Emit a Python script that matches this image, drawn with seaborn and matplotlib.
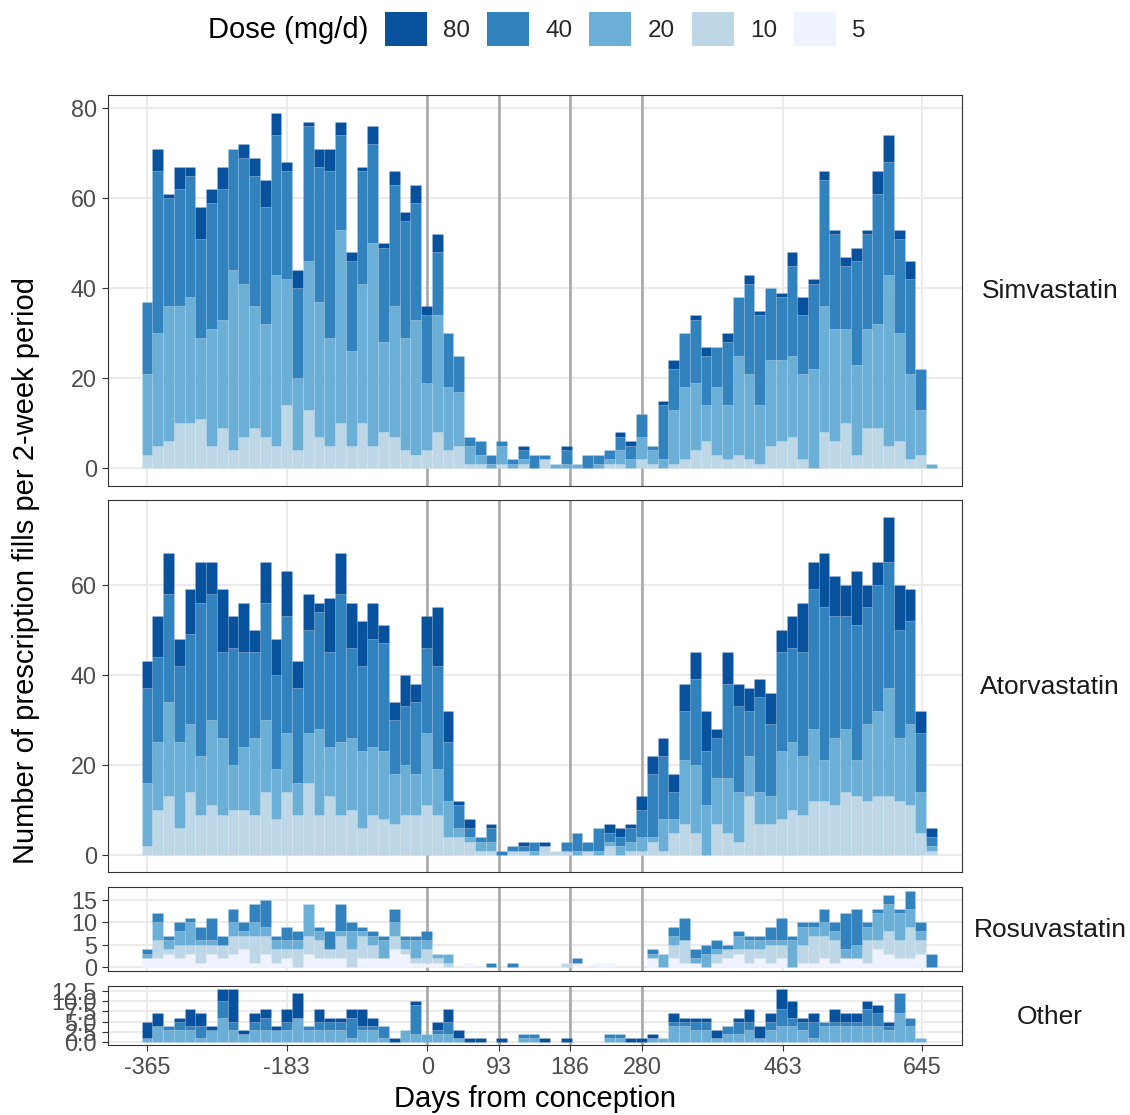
import numpy as np
import pandas as pd
import matplotlib
matplotlib.use("Agg")
import matplotlib.pyplot as plt
from matplotlib.patches import Patch
import seaborn as sns

# ---- data: prescription fills per 2-week period, by statin and dose ----
days = list(range(-365, -365 + 14 * 74, 14))   # period centres (days from conception)

simva_10 = [3, 5, 6, 10, 10, 11, 5, 9, 4, 7, 9, 7, 5, 14, 4, 13, 7, 5, 10, 5,
            10, 5, 8, 7, 4, 3, 4, 8, 4, 5, 1, 1, 0, 1, 0, 1, 0, 2, 0, 0,
            0, 0, 0, 1, 1, 0, 2, 1, 0, 1, 2, 4, 6, 3, 2, 3, 2, 1, 5, 6,
            7, 2, 0, 8, 6, 10, 3, 9, 9, 5, 6, 2, 3, 0]
simva_20 = [18, 25, 30, 26, 28, 18, 26, 24, 40, 34, 27, 25, 38, 28, 16, 33, 30, 24, 43, 21,
            31, 45, 20, 29, 25, 30, 15, 26, 14, 12, 4, 2, 1, 4, 1, 1, 0, 0, 1, 1,
            1, 0, 1, 1, 3, 2, 5, 3, 2, 12, 16, 15, 8, 15, 12, 22, 19, 13, 19, 18,
            18, 19, 22, 28, 25, 21, 20, 22, 23, 38, 24, 19, 10, 1]
simva_40 = [16, 36, 24, 26, 27, 22, 28, 29, 27, 28, 29, 26, 31, 24, 20, 30, 30, 37, 21, 20,
            25, 22, 21, 27, 26, 26, 15, 14, 12, 8, 2, 3, 2, 1, 1, 2, 3, 1, 0, 3,
            0, 3, 2, 2, 3, 3, 5, 1, 12, 9, 12, 14, 11, 9, 14, 13, 20, 20, 16, 14,
            20, 13, 19, 28, 21, 14, 23, 21, 29, 25, 21, 21, 9, 0]
simva_80 = [0, 5, 1, 5, 2, 7, 3, 5, 0, 3, 4, 6, 5, 2, 4, 1, 4, 5, 3, 2,
            1, 4, 1, 3, 2, 4, 2, 4, 0, 0, 0, 0, 0, 0, 0, 1, 0, 0, 0, 1,
            0, 0, 0, 0, 1, 1, 0, 0, 1, 2, 0, 1, 2, 0, 2, 0, 2, 1, 0, 1,
            3, 4, 1, 2, 1, 2, 3, 1, 5, 6, 2, 4, 0, 0]

atorva_10 = [2, 10, 13, 6, 14, 9, 11, 9, 10, 10, 9, 14, 8, 14, 9, 16, 9, 13, 9, 10,
             6, 9, 8, 7, 9, 9, 11, 9, 4, 4, 3, 1, 1, 0, 1, 1, 0, 2, 1, 1,
             0, 1, 0, 2, 0, 1, 1, 3, 1, 5, 7, 5, 0, 7, 5, 3, 13, 7, 7, 8,
             10, 9, 12, 12, 11, 14, 13, 12, 13, 13, 12, 11, 5, 1]
atorva_20 = [14, 15, 21, 19, 15, 13, 19, 17, 10, 14, 17, 16, 11, 13, 7, 11, 19, 11, 16, 16,
             17, 15, 15, 11, 11, 9, 16, 10, 8, 2, 1, 2, 2, 0, 0, 0, 1, 0, 0, 0,
             1, 0, 1, 1, 2, 2, 3, 1, 7, 3, 14, 15, 11, 10, 12, 11, 9, 7, 6, 15,
             15, 13, 16, 9, 15, 14, 8, 17, 19, 24, 14, 18, 9, 1]
atorva_40 = [21, 19, 24, 17, 20, 34, 28, 19, 26, 21, 19, 26, 21, 26, 21, 23, 26, 21, 33, 20,
             19, 24, 24, 12, 13, 16, 19, 23, 13, 5, 2, 1, 3, 1, 1, 1, 2, 0, 0, 2,
             4, 2, 5, 2, 2, 3, 6, 14, 14, 6, 11, 19, 12, 9, 21, 19, 10, 21, 16, 22,
             21, 23, 31, 34, 27, 25, 30, 26, 28, 28, 24, 23, 13, 2]
atorva_80 = [6, 9, 9, 6, 10, 9, 7, 14, 7, 11, 5, 9, 8, 10, 6, 8, 2, 12, 9, 10,
             10, 8, 4, 4, 7, 4, 7, 13, 7, 1, 2, 0, 1, 0, 0, 1, 0, 1, 0, 0,
             0, 0, 0, 2, 2, 1, 3, 4, 4, 4, 6, 6, 9, 2, 7, 5, 5, 4, 7, 5,
             7, 11, 6, 12, 9, 7, 12, 5, 5, 10, 10, 7, 5, 2]

rosu_5 = [2, 2, 3, 2, 3, 1, 3, 2, 3, 4, 1, 3, 1, 2, 0, 3, 2, 2, 2, 0,
          2, 2, 2, 4, 3, 1, 1, 1, 0, 0, 1, 0, 0, 0, 0, 0, 0, 0, 0, 0,
          1, 0, 1, 1, 0, 0, 0, 2, 0, 2, 1, 1, 0, 1, 2, 3, 1, 2, 1, 2,
          0, 1, 1, 2, 1, 2, 2, 1, 4, 3, 2, 2, 3, 0]
rosu_10 = [0, 4, 1, 3, 2, 4, 2, 3, 4, 3, 6, 4, 3, 2, 4, 4, 4, 2, 5, 4,
           5, 3, 0, 3, 1, 1, 3, 1, 1, 0, 0, 0, 0, 0, 0, 0, 0, 0, 0, 1,
           0, 0, 0, 0, 0, 0, 0, 0, 0, 3, 5, 0, 0, 2, 2, 1, 3, 2, 4, 3,
           0, 4, 6, 5, 5, 0, 0, 5, 2, 5, 4, 7, 3, 0]
rosu_20 = [1, 4, 2, 3, 5, 1, 1, 0, 3, 1, 3, 2, 2, 2, 2, 7, 2, 0, 1, 4,
           1, 2, 4, 3, 2, 4, 2, 1, 2, 0, 0, 0, 0, 0, 0, 0, 0, 0, 0, 0,
           0, 0, 0, 0, 0, 0, 0, 1, 3, 2, 0, 1, 3, 1, 0, 3, 2, 2, 1, 1,
           6, 4, 2, 3, 2, 2, 3, 3, 6, 6, 6, 4, 2, 0]
rosu_40 = [1, 2, 1, 2, 1, 3, 5, 2, 3, 2, 4, 6, 1, 3, 2, 0, 1, 4, 6, 2,
           1, 1, 1, 3, 1, 1, 2, 0, 0, 0, 0, 0, 1, 0, 1, 0, 0, 0, 0, 0,
           1, 0, 0, 0, 0, 0, 0, 1, 0, 2, 5, 2, 2, 2, 1, 1, 1, 1, 3, 5,
           1, 1, 1, 3, 2, 8, 8, 1, 1, 2, 1, 4, 2, 3]

other_20 = [1, 4, 3, 3, 3, 1, 3, 6, 3, 2, 3, 3, 3, 3, 6, 3, 3, 3, 3, 1,
            3, 3, 1, 0, 3, 2, 2, 2, 2, 1, 0, 0, 0, 0, 0, 1, 1, 0, 0, 0,
            0, 0, 0, 1, 1, 0, 0, 1, 1, 4, 4, 3, 3, 1, 2, 2, 3, 1, 3, 4,
            4, 3, 1, 4, 4, 4, 4, 4, 4, 3, 7, 4, 1, 0]
other_40 = [0, 0, 1, 2, 1, 3, 0, 4, 2, 0, 2, 3, 0, 2, 0, 1, 2, 2, 2, 5,
            1, 1, 3, 0, 0, 7, 0, 1, 3, 0, 0, 0, 0, 0, 0, 1, 1, 0, 0, 0,
            0, 0, 0, 1, 1, 0, 0, 0, 0, 1, 1, 2, 2, 0, 2, 3, 2, 0, 2, 4,
            2, 2, 4, 1, 1, 1, 1, 4, 3, 1, 5, 2, 0, 0]
other_80 = [4, 3, 0, 1, 4, 3, 1, 3, 8, 1, 2, 2, 1, 3, 6, 0, 3, 1, 1, 2,
            4, 2, 0, 1, 0, 1, 0, 2, 3, 2, 1, 1, 0, 1, 0, 0, 0, 1, 0, 1,
            0, 0, 0, 0, 0, 1, 1, 1, 0, 2, 1, 1, 1, 2, 0, 1, 3, 3, 2, 5,
            4, 1, 2, 0, 3, 2, 2, 2, 2, 1, 0, 0, 0, 0]

dose_levels = ["80", "40", "20", "10", "5"]
dose_colors = {"80": "#08519c", "40": "#3182bd", "20": "#6baed6",
               "10": "#bdd7e7", "5": "#eff3ff"}

drugs = [
    ("Simvastatin", {"80": simva_80, "40": simva_40, "20": simva_20, "10": simva_10}),
    ("Atorvastatin", {"80": atorva_80, "40": atorva_40, "20": atorva_20, "10": atorva_10}),
    ("Rosuvastatin", {"40": rosu_40, "20": rosu_20, "10": rosu_10, "5": rosu_5}),
    ("Other", {"80": other_80, "40": other_40, "20": other_20}),
]

x_ticks = [-365, -183, 0, 93, 186, 280, 463, 645]
trimester_lines = [0, 93, 186, 280]
y_ticks = {
    "Simvastatin": [0, 20, 40, 60, 80],
    "Atorvastatin": [0, 20, 40, 60],
    "Rosuvastatin": [0, 5, 10, 15],
    "Other": [0, 2.5, 5, 7.5, 10, 12.5],
}


def long_frame(layers):
    rows = []
    for dose, counts in layers.items():
        for d, n in zip(days, counts):
            rows.append((d, dose, n))
    return pd.DataFrame(rows, columns=["day", "dose", "fills"])


# ---- styling ----
sns.set_style("white")
plt.rcParams["font.family"] = ["Liberation Sans", "DejaVu Sans"]

W, H = 1130, 1115
fig = plt.figure(figsize=(W / 100, H / 100), dpi=100)

left_px, right_px = 108, 962
panel_px = {"Simvastatin": (95, 486), "Atorvastatin": (500, 872),
            "Rosuvastatin": (887, 971), "Other": (986, 1045)}
x_lim = (-415.8, 696.6)
bin_lo, bin_hi = days[0] - 7, days[-1] + 7

grid_col = "#EBEBEB"
tick_col = "#4D4D4D"

for i, (name, layers) in enumerate(drugs):
    top_px, bot_px = panel_px[name]
    ax = fig.add_axes([left_px / W, 1 - bot_px / H,
                       (right_px - left_px) / W, (bot_px - top_px) / H])
    df = long_frame(layers)
    order = [d for d in dose_levels if d in layers]
    sns.histplot(data=df, x="day", weights="fills", hue="dose",
                 hue_order=order, palette=dose_colors, multiple="stack",
                 binwidth=14, binrange=(bin_lo, bin_hi), alpha=1,
                 linewidth=0, legend=False, ax=ax, zorder=3)
    # faint seams between neighbouring bars; empty segments get no outline
    for p in ax.patches:
        if p.get_height() > 0:
            p.set_edgecolor((1, 1, 1, 0.12))
            p.set_linewidth(0.5)
        else:
            p.set_linewidth(0)

    for v in trimester_lines:
        ax.axvline(v, color="#A9A9A9", lw=1.9, zorder=2)

    totals = np.sum([layers[d] for d in order], axis=0)
    ymax = float(np.max(totals))
    ax.set_ylim(-0.05 * ymax, 1.05 * ymax)
    ax.set_xlim(*x_lim)

    ax.set_xticks(x_ticks)
    ax.set_yticks(y_ticks[name])
    if name == "Other":
        ax.set_yticklabels([f"{t:.1f}" for t in y_ticks[name]])
    else:
        ax.set_yticklabels([f"{t:g}" for t in y_ticks[name]])

    ax.grid(True, color=grid_col, lw=1.45, zorder=0)
    ax.set_axisbelow(True)
    ax.set_xlabel("")
    ax.set_ylabel("")

    ax.tick_params(axis="y", length=4, width=0.8, color="#333333", pad=4,
                   labelsize=16.8, labelcolor=tick_col, left=True)
    if name == "Other":
        ax.set_xticklabels([str(t) for t in x_ticks])
        ax.tick_params(axis="x", length=4, width=0.8, color="#333333", pad=4,
                       labelsize=16.8, labelcolor=tick_col, bottom=True)
    else:
        ax.tick_params(axis="x", length=0, labelbottom=False)

    for s in ax.spines.values():
        s.set_visible(True)
        s.set_color("#333333")
        s.set_linewidth(0.8)
        s.set_zorder(5)

    # facet strip label on the right
    fig.text(1050 / W, 1 - ((top_px + bot_px) / 2 + 1) / H, name,
             ha="center", va="center", fontsize=19, color="#1A1A1A")

# axis titles
fig.text(26 / W, 1 - 570 / H, "Number of prescription fills per 2-week period",
         rotation=90, ha="center", va="center", fontsize=21, color="black")
fig.text(535 / W, 1 - 1099 / H, "Days from conception",
         ha="center", va="center", fontsize=21, color="black")

# legend across the top
fig.text(368 / W, 1 - 30 / H, "Dose (mg/d)", ha="right", va="center",
         fontsize=21, color="black")
handles = [Patch(facecolor=dose_colors[d], edgecolor="none") for d in dose_levels]
fig.legend(handles, dose_levels, loc="center left",
           bbox_to_anchor=(385 / W, 1 - 29 / H), ncol=5, frameon=False,
           fontsize=17.5, handlelength=1.73, handleheight=1.73,
           handletextpad=0.66, columnspacing=0.7, borderpad=0,
           borderaxespad=0)

fig.savefig("out.png", dpi=100)
